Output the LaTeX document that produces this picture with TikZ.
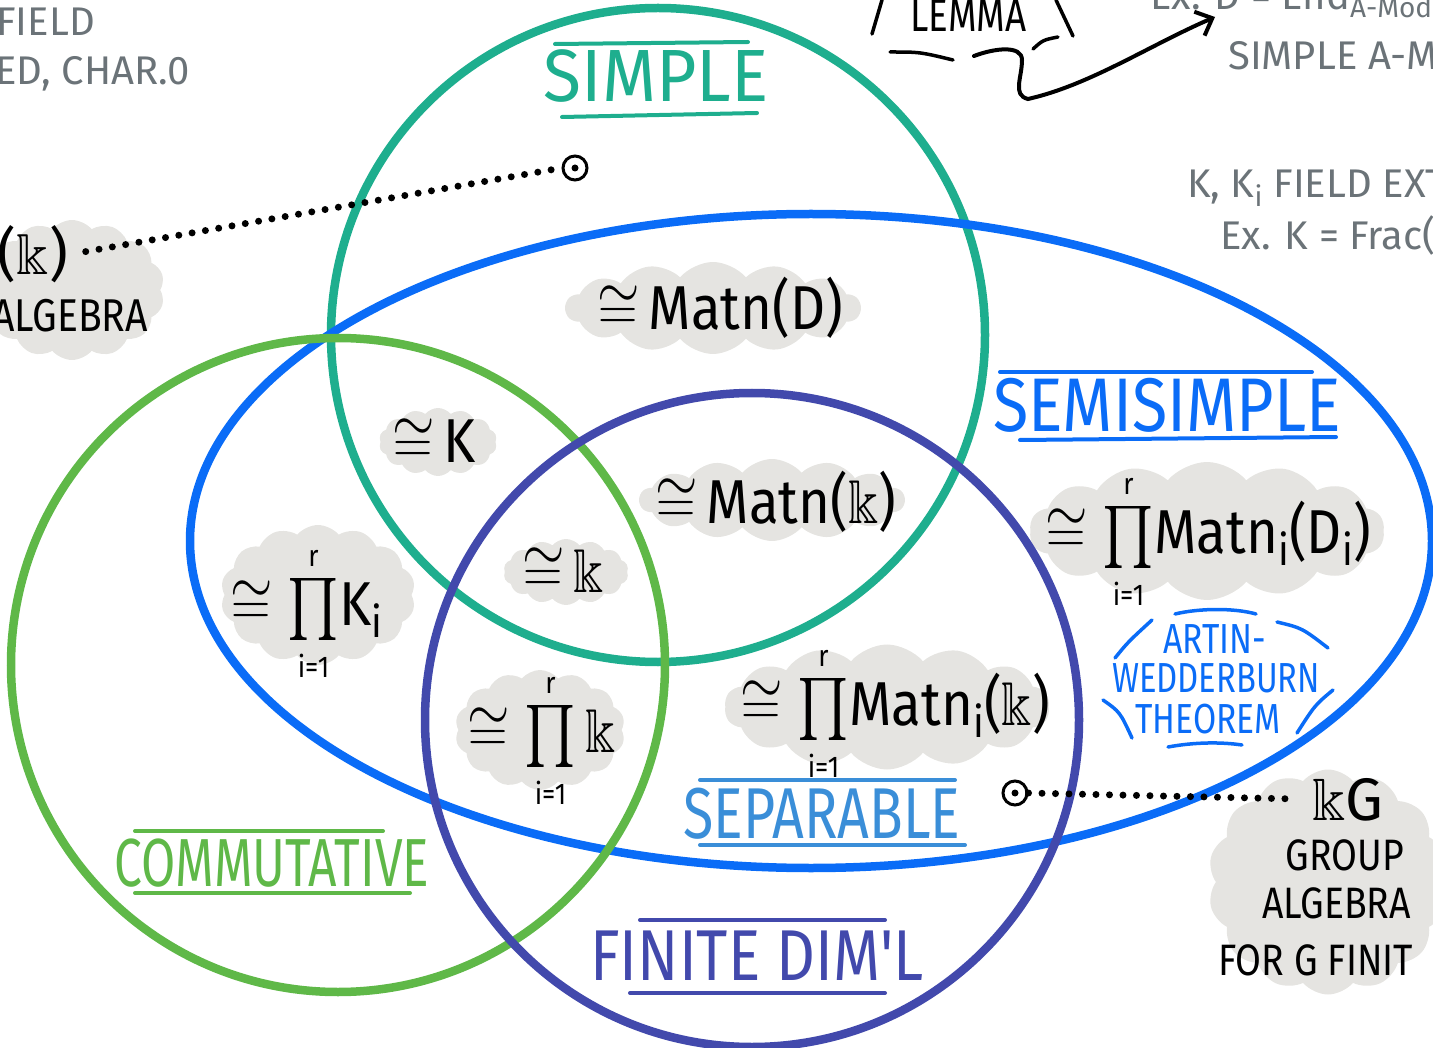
\RequirePackage{fix-cm}
\documentclass[tikz,border=0pt]{standalone}
\usepackage{amssymb}
\usepackage{fontspec}
\newfontfamily\handfont{Fira Sans}
\usetikzlibrary{shapes.symbols,arrows.meta}
\definecolor{simplec}{RGB}{30,174,142}
\definecolor{semic}{RGB}{10,108,247}
\definecolor{commc}{RGB}{95,184,72}
\definecolor{finc}{RGB}{66,73,172}
\definecolor{sepc}{RGB}{58,142,216}
\definecolor{notec}{RGB}{107,115,120}
\definecolor{blobc}{RGB}{229,228,225}
\newcommand{\limtxt}[1]{\mbox{\handfont\fontsize{30}{30}\selectfont #1}}
\newcommand{\rprod}{\mathop{\prod}\limits_{\limtxt{i=1}}^{\limtxt{r}}}
\tikzset{
  ring/.style={line width=8.5pt},
  blob/.style={cloud, cloud puffs=14, cloud puff arc=100, cloud ignores aspect, fill=blobc, draw=none, inner sep=0pt},
  expr/.style={font=\handfont\fontsize{62}{70}\selectfont, anchor=base west, inner sep=0pt, xscale=0.88},
  lab/.style={font=\handfont\fontsize{#1}{#1}\selectfont, inner sep=0pt, anchor=base},
  note/.style={text=notec, font=\handfont\fontsize{40}{44}\selectfont, inner sep=0pt},
  blk/.style={font=\handfont\fontsize{#1}{#1}\selectfont, inner sep=0pt},
  rule/.style={line width=4pt, line cap=round},
  deco/.style={line width=3.5pt, line cap=round},
  dotline/.style={line width=7pt, line cap=round, dash pattern=on 0pt off 13.5pt},
  marker/.style={circle, draw=black, line width=3pt, minimum size=24pt, inner sep=0pt},
}
\begin{document}
\begin{tikzpicture}[x=1pt,y=-1pt]
\useasboundingbox (0,0) rectangle (1433,1048);
\clip (0,0) rectangle (1433,1048);
% blobs
\node[blob, minimum width=295pt, minimum height=92pt] (b1) at (713,308) {};
\node[blob, minimum width=118pt, minimum height=68pt] (b2) at (438,442) {};
\node[blob, minimum width=265pt, minimum height=82pt] (b3) at (772,500) {};
\node[blob, minimum width=125pt, minimum height=66pt] (b4) at (566,572) {};
\node[blob, minimum width=195pt, minimum height=140pt] (b5) at (318,595) {};
\node[blob, minimum width=170pt, minimum height=120pt] (b6) at (540,730) {};
\node[blob, minimum width=325pt, minimum height=125pt] (b7) at (887,707) {};
\node[blob, minimum width=355pt, minimum height=138pt] (b8) at (1207,531) {};
\node[blob, minimum width=185pt, minimum height=140pt] (b9) at (72,290) {};
\node[blob, minimum width=240pt, minimum height=225pt] (b10) at (1328,882) {};
% sets
\draw[ring, draw=simplec] (658,335) circle (327);
\draw[ring, draw=semic] (811,541) ellipse [x radius=621, y radius=327];
\draw[ring, draw=commc] (338,665) circle (327);
\draw[ring, draw=finc] (752,720) circle (327);
% set labels
\node[lab=74, text=simplec, xscale=0.94] (lsimple) at (656,102) {SIMPLE};
\draw[rule, simplec] (555,44) -- (748,42);
\draw[rule, simplec] (562,117) -- (757,113);
\node[lab=76, text=semic, xscale=0.85] (lsemi) at (1167,432) {SEMISIMPLE};
\draw[rule, semic] (1000,372) -- (1312,372);
\draw[rule, semic] (1020,440) -- (1336,437);
\node[lab=72, text=sepc, xscale=0.77] (lsep) at (822,838) {SEPARABLE};
\draw[rule, sepc] (700,780) -- (955,780);
\draw[rule, sepc] (700,845) -- (965,845);
\node[lab=68, text=commc, xscale=0.73] (lcomm) at (272,886) {COMMUTATIVE};
\draw[rule, commc] (135,831) -- (383,831);
\draw[rule, commc] (135,893) -- (410,893);
\node[lab=72, text=finc, xscale=0.84] (lfin) at (757,980) {FINITE DIM'L};
\draw[rule, finc] (640,920) -- (885,920);
\draw[rule, finc] (630,993) -- (885,993);
% expressions
\node[expr] (matD) at (597,330) {$\cong$\,Matn(D)};
\node[expr] (eK) at (392,463) {$\cong$\,K};
\node[expr] (matk) at (655,523) {$\cong$\,Matn($\Bbbk$)};
\node[expr] (kk) at (522,592) {$\cong$\,$\Bbbk$};
\node[expr] (prodK) at (230,625) {$\cong\rprod$K\textsubscript{i}};
\node[expr] (prodk) at (467,752) {$\cong\rprod\Bbbk$};
\node[expr] (prodMatk) at (740,725) {$\cong\rprod$Matn\textsubscript{i}($\Bbbk$)};
\node[expr] (prodMatD) at (1045,553) {$\cong\rprod$Matn\textsubscript{i}(D\textsubscript{i})};
% left note blob
\node[blk=58, anchor=base east] (lk) at (68,275) {($\Bbbk$)};
\node[blk=46, anchor=base east, xscale=0.85] (alg1) at (148,332) {ALGEBRA};
\node[marker] (m1) at (575,168) {};
\fill (m1.center) circle (3.5);
\draw[dotline, shorten <=18pt] (lk.east) -- (m1.west);
% right note blob
\node[blk=60, anchor=base west] (kG) at (1312,820) {$\Bbbk$G};
\node[blk=44, anchor=base, xscale=0.85] (group) at (1345,870) {GROUP};
\node[blk=44, anchor=base west, xscale=0.85] (alg2) at (1262,918) {ALGEBRA};
\node[blk=44, anchor=base west, xscale=0.85] (forG) at (1218,975) {FOR G FINIT};
\node[marker] (m2) at (1015,793) {};
\fill (m2.center) circle (3.5);
\draw[dotline, shorten >=14pt] (m2.east) -- (kG.west);
% Artin-Wedderburn
\node[lab=42, text=semic, xscale=0.8] (aw1) at (1215,653) {ARTIN-};
\node[lab=42, text=semic, xscale=0.78] (aw2) at (1216,692) {WEDDERBURN};
\node[lab=42, text=semic, xscale=0.8] (aw3) at (1208,733) {THEOREM};
\draw[deco, semic] (1175,614) .. controls (1200,608) and (1235,608) .. (1256,614);
\draw[deco, semic] (1115,658) .. controls (1128,642) .. (1152,620);
\draw[deco, semic] (1277,622) .. controls (1302,628) .. (1328,648);
\draw[deco, semic] (1103,700) .. controls (1120,712) .. (1132,738);
\draw[deco, semic] (1333,690) .. controls (1315,705) .. (1297,733);
\draw[deco, semic] (1168,747) .. controls (1195,742) and (1222,742) .. (1242,745);
% gray notes
\node[note, anchor=base east] (nfield) at (95,36) {FIELD};
\node[note, anchor=base east] (nchar) at (190,85) {SED, CHAR.0};
\node[note, anchor=base west] (next) at (1187,198) {K, K\textsubscript{i} FIELD EXT};
\node[note, anchor=base west] (nfrac) at (1220,250) {Ex. K = Frac(};
\node[note, anchor=base west] (nend) at (1150,10) {Ex: D = End\textsubscript{A-Mod}};
\node[note, anchor=base west] (nsimp) at (1228,70) {SIMPLE A-MO};
% lemma
\node[blk=46, anchor=base west, xscale=0.8] (lemma) at (910,32) {LEMMA};
\draw[deco] (872,34) -- (882,0);
\draw[deco] (1056,0) -- (1073,36);
\draw[deco] (890,52) .. controls (920,52) .. (953,60);
\draw[deco] (1033,49) .. controls (1043,40) .. (1058,37);
\coordinate (aStart) at (974,56);
\coordinate (aEnd) at (1215,17);
\draw[line width=4pt, line cap=round, -{Straight Barb[length=14pt,width=26pt]}]
  (aStart) .. controls (995,48) and (1022,45) .. (1022,60)
  .. controls (1022,78) and (1012,95) .. (1028,99)
  .. controls (1090,85) and (1150,45) .. (aEnd);
\end{tikzpicture}
\end{document}
